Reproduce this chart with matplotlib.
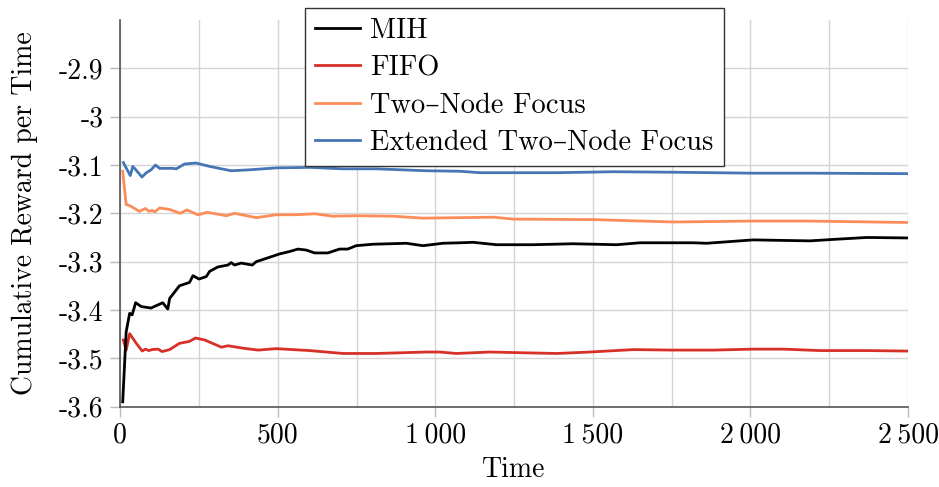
import numpy as np
import matplotlib
matplotlib.use('Agg')
import matplotlib.pyplot as plt

matplotlib.rcParams['font.family'] = ['cmr10', 'DejaVu Serif']
matplotlib.rcParams['font.size'] = 20
matplotlib.rcParams['axes.unicode_minus'] = False

# MIH
mih_t = [8, 19, 30, 38, 49, 67, 98, 135, 151, 157, 188, 220, 231, 250, 273, 284, 310, 342,
         352, 363, 384, 419, 432, 474, 506, 538, 564, 590, 617, 659, 696, 722, 749, 802, 908,
         961, 1024, 1078, 1120, 1194, 1310, 1437, 1575, 1649, 1818, 1861, 2009, 2094, 2189,
         2263, 2369, 2500]
mih_v = [-3.59, -3.445, -3.407, -3.41, -3.385, -3.393, -3.396, -3.385, -3.398, -3.376, -3.35,
         -3.343, -3.329, -3.336, -3.331, -3.32, -3.311, -3.307, -3.302, -3.307, -3.303, -3.307,
         -3.3, -3.291, -3.284, -3.279, -3.274, -3.276, -3.282, -3.282, -3.274, -3.274, -3.267,
         -3.264, -3.262, -3.267, -3.262, -3.261, -3.26, -3.265, -3.265, -3.263, -3.265, -3.261,
         -3.261, -3.262, -3.255, -3.256, -3.257, -3.254, -3.25, -3.251]

# FIFO
fifo_t = [10, 19, 30, 51, 70, 80, 91, 101, 120, 133, 157, 188, 220, 239, 268, 321, 342, 389,
          437, 495, 601, 707, 813, 972, 1014, 1067, 1173, 1310, 1385, 1490, 1628, 1755, 1882,
          2009, 2104, 2221, 2369, 2500]
fifo_v = [-3.462, -3.483, -3.449, -3.469, -3.485, -3.481, -3.484, -3.482, -3.481, -3.486,
          -3.482, -3.469, -3.465, -3.458, -3.462, -3.477, -3.474, -3.479, -3.483, -3.48,
          -3.484, -3.49, -3.49, -3.487, -3.487, -3.49, -3.487, -3.489, -3.49, -3.487, -3.482,
          -3.483, -3.483, -3.481, -3.481, -3.484, -3.484, -3.485]

# Two-Node Focus
tnf_t = [8, 19, 30, 61, 80, 91, 101, 110, 125, 157, 190, 212, 246, 277, 337, 363, 432, 495,
         559, 617, 675, 749, 866, 961, 1078, 1183, 1247, 1500, 1755, 2009, 2178, 2500]
tnf_v = [-3.113, -3.182, -3.184, -3.196, -3.19, -3.196, -3.194, -3.197, -3.189, -3.192, -3.2,
         -3.193, -3.203, -3.198, -3.205, -3.2, -3.209, -3.203, -3.203, -3.201, -3.206, -3.205,
         -3.206, -3.21, -3.209, -3.208, -3.212, -3.213, -3.218, -3.216, -3.216, -3.219]

# Extended Two-Node Focus
etnf_t = [10, 32, 40, 51, 69, 83, 98, 112, 125, 167, 178, 204, 241, 284, 352, 411, 495, 601,
          707, 813, 972, 1078, 1141, 1385, 1564, 1755, 2009, 2200, 2500]
etnf_v = [-3.095, -3.122, -3.103, -3.111, -3.125, -3.116, -3.11, -3.1, -3.107, -3.107, -3.108,
          -3.098, -3.096, -3.103, -3.112, -3.11, -3.106, -3.105, -3.108, -3.108, -3.112, -3.113,
          -3.116, -3.116, -3.114, -3.115, -3.117, -3.117, -3.118]

x_ticks = [0, 500, 1000, 1500, 2000, 2500]
x_minor = [250, 750, 1250, 1750, 2250]
x_ticklabels = ['0', '500', '1\u2009000', '1\u2009500', '2\u2009000', '2\u2009500']
y_ticks = [-3.6, -3.5, -3.4, -3.3, -3.2, -3.1, -3.0, -2.9]
y_ticklabels = ['-3.6', '-3.5', '-3.4', '-3.3', '-3.2', '-3.1', '-3', '-2.9']

fig = plt.figure(figsize=(9.39, 4.87), dpi=100)
ax = fig.add_axes([0.128, 0.165, 0.839, 0.794])

ax.plot(mih_t, mih_v, color='black', lw=2.0, label='MIH', zorder=5)
ax.plot(fifo_t, fifo_v, color='#d73027', lw=2.0, label='FIFO', zorder=4)
ax.plot(tnf_t, tnf_v, color='#fc8d59', lw=2.0, label='Two\u2013Node Focus', zorder=4)
ax.plot(etnf_t, etnf_v, color='#4575b4', lw=2.0, label='Extended Two\u2013Node Focus', zorder=4)

ax.set_xlim(0, 2500)
ax.set_ylim(-3.6, -2.8)
ax.set_xticks(x_ticks)
ax.set_xticks(x_minor, minor=True)
ax.set_xticklabels(x_ticklabels)
ax.set_yticks(y_ticks)
ax.set_yticklabels(y_ticklabels)
ax.grid(which='both', color='#d4d4d4', lw=1.0, zorder=0)
ax.tick_params(which='major', color='#bbbbbb', length=7, width=1.0, labelsize=20)
ax.tick_params(which='minor', length=0)
ax.tick_params(axis='x', pad=4)
ax.tick_params(axis='y', pad=5)

for s in ['top', 'right']:
  ax.spines[s].set_visible(False)
for s in ['left', 'bottom']:
  ax.spines[s].set_color('#555555')
  ax.spines[s].set_linewidth(1.2)

ax.set_xlabel('Time', labelpad=6, fontsize=20)
ax.set_ylabel('Cumulative Reward per Time', labelpad=15, fontsize=20)

leg = ax.legend(loc='upper center', bbox_to_anchor=(0.5, 1.031), borderaxespad=0,
                fancybox=False, edgecolor='#333333', framealpha=1, handlelength=1.6,
                handletextpad=0.35, labelspacing=0.38, borderpad=0.35, fontsize=20.5)
leg.get_frame().set_linewidth(1.0)

fig.savefig('out.png', dpi=100)
